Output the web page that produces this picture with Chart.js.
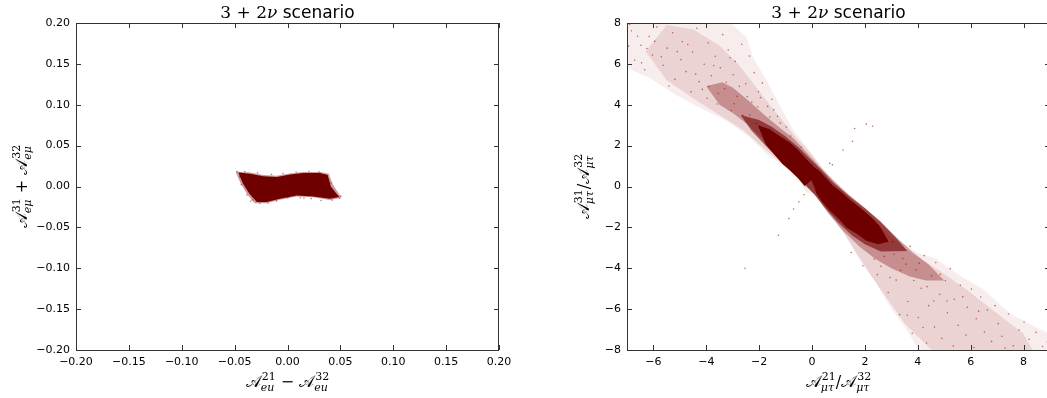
<!DOCTYPE html>
<html>
<head>
<meta charset="utf-8">
<script src="https://cdn.jsdelivr.net/npm/chart.js@4"></script>
<style>
  html, body { margin: 0; padding: 0; background: #fff; overflow: hidden; width: 1047px; height: 398px; }
  #left { position: absolute; left: 0; top: 0; }
  #right { position: absolute; left: 520px; top: 0; }
</style>
</head>
<body>
<canvas id="left" width="520" height="398"></canvas>
<canvas id="right" width="560" height="398"></canvas>
<script>
// ---- left panel: A21_eu - A32_eu vs A31_eu + A32_eu (outline of the dense cloud)
const leftCoreUpper = [[-0.0465,0.0172],[-0.0355,0.0157],[-0.0229,0.0125],[-0.0102,0.0117],[0.0024,0.0146],[0.015,0.0165],[0.0307,0.0165],[0.038,0.0142],[0.041,0.0],[0.046,-0.0083],[0.049,-0.0128]];
const leftCoreLower = [[-0.0465,0.0168],[-0.0423,0.004],[-0.036,-0.0088],[-0.029,-0.0191],[-0.0197,-0.0191],[-0.0071,-0.015],[0.0087,-0.0109],[0.0244,-0.0121],[0.040,-0.015],[0.049,-0.0128]];
const leftFringeUpper = [[-0.049,0.0185],[-0.035,0.0172],[-0.023,0.014],[-0.010,0.0132],[0.002,0.016],[0.015,0.0178],[0.031,0.0178],[0.039,0.0155],[0.043,0.002],[0.048,-0.0075],[0.051,-0.0138]];
const leftFringeLower = [[-0.049,0.0175],[-0.044,0.003],[-0.038,-0.0098],[-0.031,-0.0205],[-0.020,-0.0205],[-0.007,-0.0163],[0.0087,-0.0122],[0.024,-0.0133],[0.040,-0.0165],[0.051,-0.0138]];
const leftDots = [[-0.0478,0.0183],[-0.0452,0.0121],[-0.0437,0.0023],[-0.0384,-0.0103],[-0.0331,-0.0164],[-0.0262,-0.0207],[-0.0183,-0.0204],[-0.0104,-0.0176],[0.0003,-0.0138],[0.0121,-0.0137],[0.0224,-0.0148],[0.0318,-0.0171],[0.0423,-0.0167],[0.0492,-0.0146],[0.0461,-0.0104],[0.0412,0.0043],[0.0366,0.0137],[0.0297,0.0181],[0.0203,0.0186],[0.0082,0.0174],[-0.0042,0.0158],[-0.0151,0.0148],[-0.0283,0.0167],[-0.0404,0.0184],[0.0503,-0.0118],[-0.0347,-0.0181],[0.0156,-0.0142]];
const leftTicks = [-0.2,-0.15,-0.1,-0.05,0,0.05,0.1,0.15,0.2];
const leftTickLabels = ['\u22120.20','\u22120.15','\u22120.10','\u22120.05','0.00','0.05','0.10','0.15','0.20'];

// ---- right panel: A21_mt/A32_mt vs A31_mt/A32_mt, density layers from dense core to sparse halo
const rightCoreUpper = [[-2.05,3.0],[-1.6,2.8],[-1.2,2.45],[-0.84,2.15],[-0.5,1.75],[-0.21,1.33],[0.1,0.93],[0.29,0.75],[0.55,0.38],[0.8,0.03],[1.1,-0.27],[1.42,-0.63],[1.75,-0.97],[2.05,-1.28],[2.3,-1.58],[2.56,-1.95],[2.9,-2.7]];
const rightCoreLower = [[-2.05,3.0],[-1.76,2.08],[-1.43,1.57],[-1.12,1.1],[-0.82,0.77],[-0.55,0.44],[-0.28,0.03],[-0.12,0.2],[-0.02,0.31],[0.08,-0.02],[0.17,-0.37],[0.4,-0.78],[0.67,-1.18],[1.0,-1.58],[1.3,-2.0],[1.7,-2.33],[2.05,-2.65],[2.5,-2.83],[2.9,-2.7]];
const rightInnerUpper = [[-2.7,3.5],[-2.0,3.25],[-1.5,2.9],[-1.0,2.45],[-0.5,1.9],[-0.1,1.38],[0.3,0.88],[0.8,0.18],[1.4,-0.47],[2.0,-1.07],[2.6,-1.73],[3.2,-2.55],[3.6,-3.15]];
const rightInnerLower = [[-2.7,3.5],[-2.3,2.75],[-1.8,2.05],[-1.3,1.4],[-0.8,0.75],[-0.45,0.3],[-0.2,0.0],[0.1,-0.42],[0.5,-1.07],[1.0,-1.77],[1.5,-2.38],[2.0,-2.83],[2.6,-3.18],[3.6,-3.15]];
const rightMidUpper = [[-4.0,4.9],[-3.4,5.1],[-3.0,4.85],[-2.5,4.3],[-1.8,3.5],[-1.2,2.85],[-0.7,2.35],[-0.2,1.65],[0.3,0.95],[0.8,0.3],[1.4,-0.4],[2.0,-1.05],[2.6,-1.75],[3.2,-2.5],[3.8,-3.2],[4.4,-3.8],[5.0,-4.6]];
const rightMidLower = [[-4.0,4.9],[-3.5,4.0],[-3.0,3.6],[-2.4,3.0],[-1.9,2.35],[-1.4,1.7],[-0.9,1.05],[-0.45,0.45],[-0.2,0.0],[0.15,-0.45],[0.6,-1.3],[1.2,-2.2],[1.8,-2.95],[2.4,-3.55],[3.0,-4.0],[3.7,-4.4],[4.3,-4.6],[5.0,-4.6]];
const rightNearUpper = [[-6.3,6.6],[-5.5,7.9],[-4.5,7.7],[-3.5,6.9],[-2.8,6.0],[-2.2,5.0],[-1.6,4.0],[-1.1,3.2],[-0.6,2.4],[-0.1,1.7],[0.5,0.7],[1.4,-0.5],[2.2,-1.5],[3.0,-2.5],[3.8,-3.3],[4.8,-4.1],[5.8,-5.0],[6.8,-6.0],[8.0,-7.2],[8.6,-8.6]];
const rightNearLower = [[-6.3,6.6],[-5.5,5.2],[-4.5,4.3],[-3.5,3.5],[-2.6,2.75],[-1.9,1.95],[-1.2,1.2],[-0.6,0.5],[-0.3,0.0],[0.1,-0.3],[0.6,-1.25],[1.2,-2.3],[1.7,-3.3],[2.3,-4.5],[2.9,-5.6],[3.5,-6.7],[4.2,-7.6],[5.0,-8.6],[8.6,-8.6]];
const rightHaloUpper = [[-7,9],[-4.2,8.7],[-3.0,7.9],[-2.48,7.32],[-2.23,6.3],[-1.72,5.2],[-1.22,3.95],[-0.72,2.8],[-0.21,1.95],[0.54,0.7],[1.42,-0.55],[2.18,-1.4],[2.93,-2.35],[3.95,-3.2],[4.7,-3.55],[5.7,-4.45],[6.46,-5.0],[7.47,-6.2],[8.48,-6.9],[9,-7.2]];
const rightHaloLower = [[-7,5.8],[-6.13,5.3],[-5.12,4.45],[-4.24,3.85],[-3.23,3.2],[-2.35,2.4],[-1.73,1.6],[-0.97,0.9],[-0.46,0.25],[-0.21,-0.3],[0.17,-0.3],[0.67,-1.31],[1.3,-2.46],[1.8,-3.6],[2.43,-4.74],[2.94,-5.88],[3.57,-7.0],[3.95,-7.83],[4.2,-8.5],[9,-8.5]];
const rightDots = [
  [-6.83,7.62],[-6.47,6.91],[-6.71,6.18],[-6.16,7.34],[-6.04,6.43],[-5.87,7.81],[-5.63,5.93],[-5.48,6.77],[-5.27,7.52],[-5.19,5.24],
  [-4.96,6.21],[-4.91,7.08],[-4.77,5.62],[-4.58,4.63],[-4.52,6.58],[-4.36,7.74],[-4.27,5.13],[-4.08,5.98],[-3.97,4.32],[-3.93,7.03],
  [-3.81,5.42],[-3.66,6.37],[-3.59,4.04],[-3.47,5.81],[-3.38,7.43],[-3.31,4.79],[-3.17,6.68],[-3.06,3.72],[-2.98,5.47],[-2.91,6.12],
  [-2.83,4.41],[-2.66,6.96],[-2.62,3.48],[-2.51,5.03],[-2.37,6.38],[-2.28,4.12],[-2.19,5.57],[-2.12,3.08],[-2.03,4.63],[-1.88,5.07],
  [-1.79,2.58],[-1.68,3.92],[-1.52,4.27],[-1.38,2.16],[-1.31,3.44],[-1.07,1.52],[-0.98,2.91],[-0.81,2.47],[-0.62,0.88],[-0.41,1.93],
  [-6.9,7.93],[-6.33,5.71],[-5.77,7.98],[-6.94,6.87],[-5.41,4.92],
  [-3.9,4.9],[-3.55,4.55],[-3.25,5.1],[-2.95,4.05],[-2.75,4.9],[-2.45,4.4],[-2.35,3.5],[-2.05,3.9],[-1.95,4.35],[-1.6,3.4],
  [-1.45,3.75],[-1.2,3.1],[-4.4,5.5],[-4.15,4.75],[-5.1,6.6],[-5.7,6.35],[-6.45,6.05],[-6.6,7.35],[-6.25,6.75],[-3.72,5.92],
  [-3.1,6.3],[-4.7,6.95],[-5.95,7.1],
  [1.48,-3.23],[1.92,-3.88],[2.21,-2.67],[2.47,-4.31],[2.73,-3.42],[2.88,-5.19],[3.04,-2.71],[3.18,-4.58],[3.31,-6.27],[3.43,-3.52],
  [3.62,-5.63],[3.71,-2.93],[3.79,-7.18],[3.93,-4.07],[4.02,-6.41],[4.13,-4.98],[4.24,-3.38],[4.33,-7.66],[4.41,-5.83],[4.52,-4.37],
  [4.63,-6.88],[4.68,-3.72],[4.83,-5.27],[4.91,-7.43],[5.04,-4.61],[5.12,-6.18],[5.23,-4.02],[5.34,-7.81],[5.38,-5.52],[5.53,-6.79],
  [5.61,-4.83],[5.82,-7.27],[5.87,-5.91],[6.03,-5.02],[6.12,-7.88],[6.21,-6.47],[6.38,-5.41],[6.52,-7.12],[6.63,-6.04],[6.79,-7.58],
  [6.92,-5.83],[7.04,-6.71],[7.18,-7.33],[7.43,-6.24],[7.61,-7.79],[7.83,-7.02],[8.02,-6.63],[8.21,-7.48],[8.47,-7.14],[8.72,-7.83],
  [2.6,-3.9],[3.1,-3.3],[3.35,-4.1],[3.55,-3.8],[3.85,-4.6],[4.05,-3.75],[2.95,-4.45],[2.35,-3.55],[4.35,-4.9],[4.85,-4.3],
  [5.7,-5.4],[6.3,-6.1],[7.3,-7.9],[8.9,-7.6],[5.1,-5.6],[4.6,-5.6],[3.6,-6.3],[4.2,-6.9],
  [1.61,2.84],[2.05,3.05],[2.29,2.95],[1.53,2.21],[1.17,1.78],[0.77,1.06],[0.67,1.13],[-0.5,-0.75],[-0.88,-1.57],
  [-1.27,-2.39],[-2.54,-4.0],[-0.3,-0.4],[-0.7,-1.1]
];
const rightXTicks = [-6,-4,-2,0,2,4,6,8];
const rightXTickLabels = ['\u22126','\u22124','\u22122','0','2','4','6','8'];
const rightYTicks = [-8,-6,-4,-2,0,2,4,6,8];
const rightYTickLabels = ['\u22128','\u22126','\u22124','\u22122','0','2','4','6','8'];

const MATH = '16px "DejaVu Serif", serif';
const SMALL = '11px "DejaVu Serif", serif';
const SMALL_IT = 'italic 11px "DejaVu Serif", serif';
const TICK_FONT = { family: 'DejaVu Sans', size: 11 };

const pts = a => a.map(p => ({ x: p[0], y: p[1] }));

function band(upper, lower, color) {
  return [
    { data: pts(upper), fill: '+1', backgroundColor: color, borderColor: 'transparent', borderWidth: 0, pointRadius: 0, tension: 0 },
    { data: pts(lower), fill: false, borderColor: 'transparent', borderWidth: 0, pointRadius: 0, tension: 0 }
  ];
}

function dots(list, color, r) {
  return { data: pts(list), showLine: false, pointRadius: r, pointBorderWidth: 0, pointBackgroundColor: color, borderColor: 'transparent' };
}

// rich text: parts like {t, sup, sub, font}
function drawParts(ctx, parts, cx, cy, rot) {
  ctx.save();
  ctx.translate(cx, cy);
  if (rot) ctx.rotate(rot);
  ctx.fillStyle = '#000';
  ctx.textBaseline = 'alphabetic';
  ctx.textAlign = 'left';
  let total = 0;
  const widths = parts.map(p => {
    ctx.font = p.font || MATH;
    const w = ctx.measureText(p.t).width;
    let extra = 0;
    if (p.sup) { ctx.font = SMALL; extra = ctx.measureText(p.sup).width + 1; }
    if (p.sub) { ctx.font = SMALL_IT; extra = Math.max(extra, ctx.measureText(p.sub).width); }
    total += w + extra;
    return [w, extra];
  });
  let x = -total / 2;
  parts.forEach((p, i) => {
    ctx.font = p.font || MATH;
    ctx.fillText(p.t, x, 0);
    x += widths[i][0];
    if (p.sup) { ctx.font = SMALL; ctx.fillText(p.sup, x + 1, -7); }
    if (p.sub) { ctx.font = SMALL_IT; ctx.fillText(p.sub, x, 4); }
    x += widths[i][1];
  });
  ctx.restore();
}

const titleParts = [
  { t: '3 + 2', font: '17px "DejaVu Serif", serif' },
  { t: '\u03bd', font: 'italic 17px "DejaVu Serif", serif' },
  { t: ' scenario', font: '17px "DejaVu Sans", sans-serif' }
];

function decor(opts) {
  return {
    id: 'decor',
    afterDraw(chart) {
      const { ctx, chartArea: a, scales } = chart;
      ctx.save();
      ctx.strokeStyle = '#333';
      ctx.lineWidth = 1;
      ctx.strokeRect(Math.round(a.left) + 0.5, Math.round(a.top) + 0.5, Math.round(a.right - a.left) - 1, Math.round(a.bottom - a.top));
      ctx.beginPath();
      opts.xTicks.forEach(v => {
        const px = Math.round(scales.x.getPixelForValue(v)) + 0.5;
        ctx.moveTo(px, a.bottom); ctx.lineTo(px, a.bottom - 5);
        ctx.moveTo(px, a.top); ctx.lineTo(px, a.top + 5);
      });
      opts.yTicks.forEach(v => {
        const py = Math.round(scales.y.getPixelForValue(v)) + 0.5;
        ctx.moveTo(a.left, py); ctx.lineTo(a.left + 5, py);
        ctx.moveTo(a.right, py); ctx.lineTo(a.right - 5, py);
      });
      ctx.stroke();
      ctx.restore();
      const cx = (a.left + a.right) / 2;
      drawParts(ctx, titleParts, cx, 18, 0);
      drawParts(ctx, opts.xLabel, cx, 387, 0);
      drawParts(ctx, opts.yLabel, opts.yLabelX, (a.top + a.bottom) / 2, -Math.PI / 2);
    }
  };
}

function axis(min, max, ticks, labels, fit) {
  return {
    type: 'linear', min, max,
    grid: { display: false, drawTicks: false },
    border: { display: false },
    ticks: {
      font: TICK_FONT, color: '#000', padding: 6, autoSkip: false, maxRotation: 0,
      callback: v => labels[ticks.indexOf(v)]
    },
    afterBuildTicks: s => { s.ticks = ticks.map(v => ({ value: v })); },
    afterFit: fit
  };
}

function makeChart(id, datasets, xr, yr, xTicks, xLabels, yTicks, yLabels, yAxisWidth, padRight, deco) {
  return new Chart(document.getElementById(id), {
    type: 'line',
    data: { datasets },
    options: {
      responsive: false, animation: false, devicePixelRatio: 1, events: [],
      layout: { padding: { top: 23, right: padRight, left: 0, bottom: 0 } },
      plugins: { legend: { display: false }, tooltip: { enabled: false } },
      scales: {
        x: axis(xr[0], xr[1], xTicks, xLabels, s => { s.height = 48; }),
        y: axis(yr[0], yr[1], yTicks, yLabels, s => { s.width = yAxisWidth; })
      }
    },
    plugins: [deco]
  });
}

makeChart('left',
  [...band(leftCoreUpper, leftCoreLower, 'rgb(110,0,0)'),
   ...band(leftFringeUpper, leftFringeLower, 'rgba(130,0,0,0.4)'),
   dots(leftDots, 'rgba(130,0,0,0.5)', 0.8)],
  [-0.2, 0.2], [-0.2, 0.2], leftTicks, leftTickLabels, leftTicks, leftTickLabels, 76, 21,
  decor({
    xTicks: leftTicks, yTicks: leftTicks, yLabelX: 27,
    xLabel: [{ t: '\ud835\udc9c', sup: '21', sub: 'eu' }, { t: ' \u2212 ' }, { t: '\ud835\udc9c', sup: '32', sub: 'eu' }],
    yLabel: [{ t: '\ud835\udc9c', sup: '31', sub: 'e\u03bc' }, { t: ' + ' }, { t: '\ud835\udc9c', sup: '32', sub: 'e\u03bc' }]
  }));

makeChart('right',
  [...band(rightCoreUpper, rightCoreLower, 'rgb(110,0,0)'),
   ...band(rightInnerUpper, rightInnerLower, 'rgba(115,0,0,0.6)'),
   ...band(rightMidUpper, rightMidLower, 'rgba(120,0,0,0.33)'),
   ...band(rightNearUpper, rightNearLower, 'rgba(140,0,0,0.11)'),
   ...band(rightHaloUpper, rightHaloLower, 'rgba(150,0,0,0.07)'),
   dots(rightDots, 'rgba(130,0,0,0.55)', 0.8)],
  [-7, 9], [-8, 8], rightXTicks, rightXTickLabels, rightYTicks, rightYTickLabels, 107, 30,
  decor({
    xTicks: rightXTicks, yTicks: rightYTicks, yLabelX: 69,
    xLabel: [{ t: '\ud835\udc9c', sup: '21', sub: '\u03bc\u03c4' }, { t: '/' }, { t: '\ud835\udc9c', sup: '32', sub: '\u03bc\u03c4' }],
    yLabel: [{ t: '\ud835\udc9c', sup: '31', sub: '\u03bc\u03c4' }, { t: '/' }, { t: '\ud835\udc9c', sup: '32', sub: '\u03bc\u03c4' }]
  }));
</script>
</body>
</html>
